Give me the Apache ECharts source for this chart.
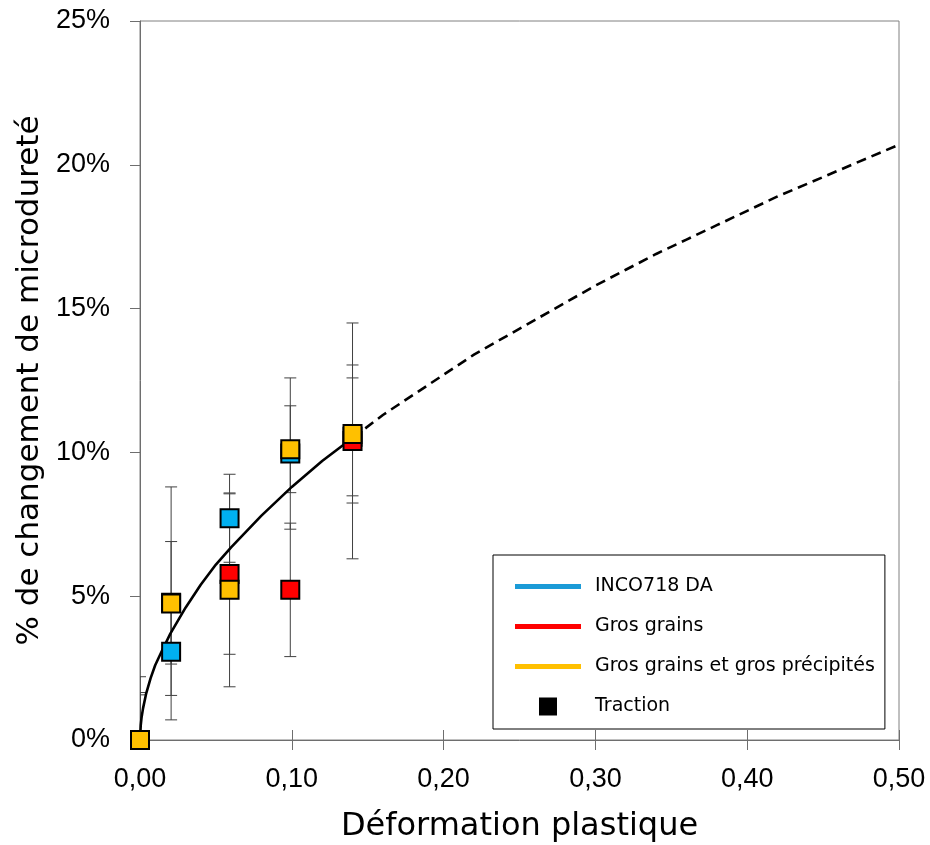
<!DOCTYPE html>
<html>
<head>
<meta charset="utf-8">
<script src="https://cdn.jsdelivr.net/npm/echarts@6/dist/echarts.min.js"></script>
<style>html,body{margin:0;padding:0;background:#fff}#c{width:930px;height:845px}</style>
</head>
<body>
<div id="c"></div>
<script>
// ---- data ----
const xTicks = [0, 0.1, 0.2, 0.3, 0.4, 0.5];
const yTicks = [0, 5, 10, 15, 20, 25];

const seriesNames = ['INCO718 DA', 'Gros grains', 'Gros grains et gros précipités', 'Traction'];

const strainX = [0, 0.0205, 0.059, 0.099, 0.14];

const incoY   = [0, 3.07, 7.71, 9.96, 10.54];
const incoErr = [1.57, 1.52, 1.53, 2.63, 2.05];

const ggY     = [0, 4.77, 5.77, 5.22, 10.40];
const ggErr   = [1.65, 2.13, 2.79, 2.32, 4.10];

const ggpY    = [0, 4.75, 5.22, 10.11, 10.64];
const ggpErr  = [2.20, 4.05, 3.37, 1.51, 2.40];

const tractionX = [0];
const tractionY = [0];

// trend curve (solid part, within measured range)
const fitX = [0, 0.0005, 0.001, 0.002, 0.004, 0.007, 0.01, 0.014, 0.02, 0.03, 0.04, 0.05, 0.06, 0.08, 0.10, 0.12, 0.14];
const fitY = [0, 0.52, 0.77, 1.1, 1.6, 2.15, 2.6, 3.05, 3.7, 4.6, 5.4, 6.1, 6.7, 7.8, 8.8, 9.7, 10.5];
// trend curve (dashed extrapolation)
const extX = [0.14, 0.16, 0.18, 0.20, 0.22, 0.24, 0.26, 0.28, 0.30, 0.32, 0.34, 0.36, 0.38, 0.40, 0.42, 0.44, 0.46, 0.48, 0.50];
const extY = [10.5, 11.3, 12.0, 12.7, 13.4, 14.0, 14.6, 15.2, 15.8, 16.35, 16.9, 17.4, 17.9, 18.4, 18.9, 19.35, 19.8, 20.25, 20.7];

// ---- styles ----
const FONT = "'DejaVu Sans', sans-serif";
const TICKFONT = "'Liberation Sans', Arial, sans-serif";
const fills = ['#00b0f0', '#ff0000', '#ffc000', '#000000'];
const legendLine = ['#1b9bd7', '#ff0000', '#ffc000'];

function pts(xs, ys) { return xs.map((x, i) => [x, ys[i]]); }
function bars(xs, ys, es) { return xs.map((x, i) => [x, ys[i] - es[i], ys[i] + es[i]]); }

const allBars = [].concat(
  bars(strainX, incoY, incoErr),
  bars(strainX, ggY, ggErr),
  bars(strainX, ggpY, ggpErr)
);

function renderErr(params, api) {
  const x = api.value(0), lo = api.value(1), hi = api.value(2);
  const a = api.coord([x, lo]), b = api.coord([x, hi]);
  const w = 6;
  const st = { stroke: '#404040', lineWidth: 1 };
  return {
    type: 'group',
    children: [
      { type: 'line', shape: { x1: a[0], y1: a[1], x2: b[0], y2: b[1] }, style: st },
      { type: 'line', shape: { x1: a[0] - w, y1: a[1], x2: a[0] + w, y2: a[1] }, style: st },
      { type: 'line', shape: { x1: b[0] - w, y1: b[1], x2: b[0] + w, y2: b[1] }, style: st }
    ]
  };
}

const lineIcon = 'path://M0,0h0.01v0.01h-0.01z M0,6.5h66v5h-66z M66,17.99h0.01v0.01h-0.01z';
const squareIcon = 'path://M0,0h0.01v0.01h-0.01z M24,0h18v18h-18z M66,17.99h0.01v0.01h-0.01z';

function scatter(name, data, color, z) {
  return {
    name: name, type: 'scatter', data: data, symbol: 'rect', symbolSize: 18, clip: false, z: z,
    itemStyle: { color: color, borderColor: '#000', borderWidth: 2, opacity: 1 },
    emphasis: { disabled: true }
  };
}

const chart = echarts.init(document.getElementById('c'), null, { renderer: 'canvas' });
chart.setOption({
  animation: false,
  backgroundColor: '#fff',
  textStyle: { fontFamily: FONT },
  grid: { left: 140, right: 31, top: 21, bottom: 105, show: true, borderColor: '#808080', borderWidth: 1,
          containLabel: false, outerBoundsMode: 'none' },
  legend: {
    orient: 'vertical', left: 493, top: 555,
    padding: [22, 10, 13, 22],
    itemWidth: 66, itemHeight: 18, itemGap: 21,
    borderColor: '#000', borderWidth: 1, backgroundColor: '#fff',
    textStyle: { fontFamily: FONT, fontSize: 19, color: '#000', padding: [0, 0, 0, 9] },
    selectedMode: false,
    data: [
      { name: seriesNames[0], icon: lineIcon, itemStyle: { color: legendLine[0], borderWidth: 0 } },
      { name: seriesNames[1], icon: lineIcon, itemStyle: { color: legendLine[1], borderWidth: 0 } },
      { name: seriesNames[2], icon: lineIcon, itemStyle: { color: legendLine[2], borderWidth: 0 } },
      { name: seriesNames[3], icon: squareIcon, itemStyle: { color: '#000', borderWidth: 0 } }
    ]
  },
  xAxis: [{
    type: 'value', min: xTicks[0], max: xTicks[xTicks.length - 1], interval: xTicks[1] - xTicks[0],
    name: 'Déformation plastique', nameLocation: 'middle', nameGap: 71,
    nameTextStyle: { fontFamily: FONT, fontSize: 32, color: '#000' },
    axisLine: { show: true, lineStyle: { color: '#6e6e6e', width: 1 } },
    axisTick: { show: true, inside: false, length: 10, lineStyle: { color: '#6e6e6e' } },
    axisLabel: { fontFamily: TICKFONT, fontSize: 27, color: '#000', margin: 26,
      formatter: v => v.toFixed(2).replace('.', ',') },
    splitLine: { show: false }
  }, {
    type: 'value', position: 'bottom', min: xTicks[0], max: xTicks[xTicks.length - 1], interval: xTicks[1] - xTicks[0],
    axisLine: { show: false },
    axisTick: { show: true, inside: true, length: 10, lineStyle: { color: '#6e6e6e' } },
    axisLabel: { show: false }, splitLine: { show: false }
  }],
  yAxis: {
    type: 'value', min: yTicks[0], max: yTicks[yTicks.length - 1], interval: yTicks[1] - yTicks[0],
    name: '% de changement de microdureté', nameLocation: 'middle', nameGap: 79, nameRotate: 90,
    nameTextStyle: { fontFamily: FONT, fontSize: 31, color: '#000' },
    axisLine: { show: true, lineStyle: { color: '#6e6e6e', width: 1 } },
    axisTick: { show: true, inside: false, length: 10, lineStyle: { color: '#6e6e6e' } },
    axisLabel: { fontFamily: TICKFONT, fontSize: 27, color: '#000', margin: 30, formatter: '{value}%',
      padding: [3, 0, 0, 0] },
    splitLine: { show: false }
  },
  series: [
    {
      type: 'custom', name: 'err', renderItem: renderErr, data: allBars, clip: true, z: 2,
      encode: { x: 0, y: [1, 2] }, silent: true
    },
    {
      type: 'line', name: 'fit', data: pts(fitX, fitY), showSymbol: false, smooth: false, z: 3, silent: true,
      lineStyle: { color: '#000', width: 2.6, join: 'round' }
    },
    {
      type: 'line', name: 'ext', data: pts(extX, extY), showSymbol: false, smooth: false, z: 3, silent: true,
      lineStyle: { color: '#000', width: 2.6, type: [10, 6] }
    },
    scatter(seriesNames[3], pts(tractionX, tractionY), fills[3], 4),
    scatter(seriesNames[0], pts(strainX, incoY), fills[0], 5),
    scatter(seriesNames[1], pts(strainX, ggY), fills[1], 6),
    scatter(seriesNames[2], pts(strainX, ggpY), fills[2], 7)
  ]
});
</script>
</body>
</html>
